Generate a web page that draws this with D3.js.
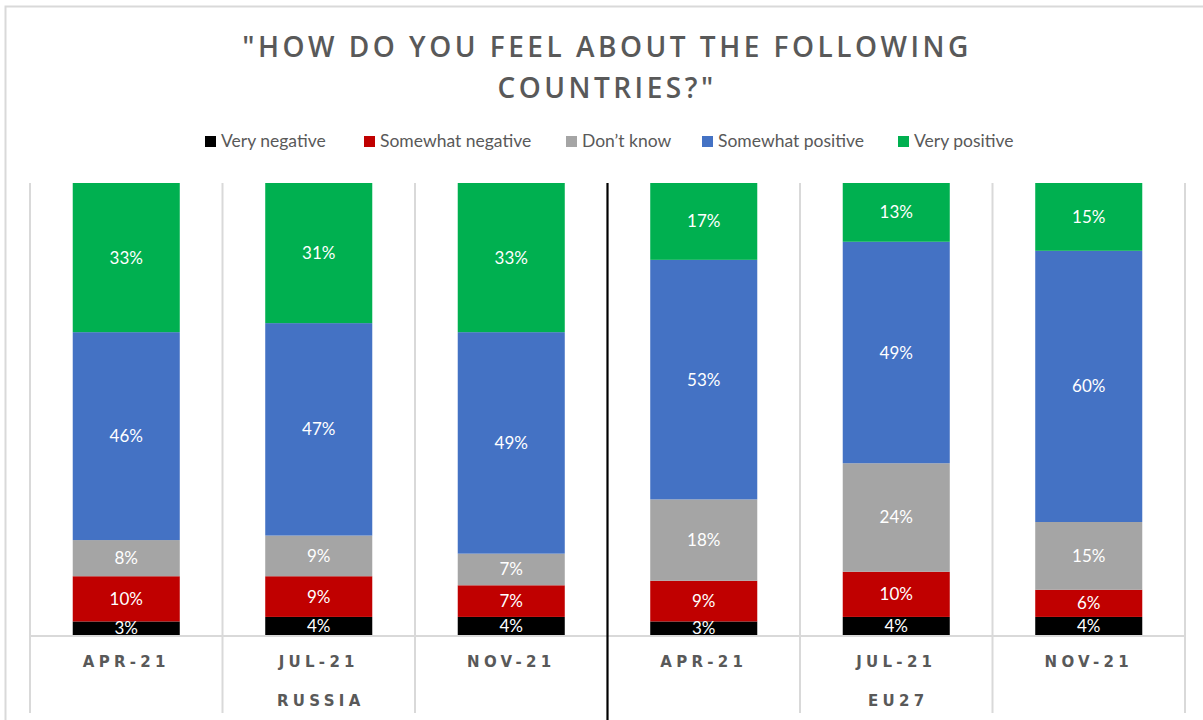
<!DOCTYPE html>
<html>
<head>
<meta charset="utf-8">
<script src="https://cdn.jsdelivr.net/npm/d3@7"></script>
<style>
html,body{margin:0;padding:0;background:#fff;}
svg{display:block;}
</style>
</head>
<body>
<svg id="chart" width="1203" height="720"></svg>
<script>
const periods = ["APR-21","JUL-21","NOV-21","APR-21","JUL-21","NOV-21"];
const groups = ["RUSSIA","EU27"];
const seriesNames = ["Very negative","Somewhat negative","Don\u2019t know","Somewhat positive","Very positive"];
const seriesColors = ["#000000","#C00000","#A5A5A5","#4472C4","#00B050"];
const veryNegative     = [3, 4, 4, 3, 4, 4];
const somewhatNegative = [10, 9, 7, 9, 10, 6];
const dontKnow         = [8, 9, 7, 18, 24, 15];
const somewhatPositive = [46, 47, 49, 53, 49, 60];
const veryPositive     = [33, 31, 33, 17, 13, 15];
const titleLines = ["\"HOW DO YOU FEEL ABOUT THE FOLLOWING", "COUNTRIES?\""];

const seriesValues = [veryNegative, somewhatNegative, dontKnow, somewhatPositive, veryPositive];
const rows = periods.map((p, i) => {
  const r = {idx: i};
  seriesNames.forEach((s, k) => r[s] = seriesValues[k][i]);
  return r;
});
const stack = d3.stack().keys(seriesNames)(rows);

const svg = d3.select("#chart");
const plotL = 30, plotR = 1185, plotT = 183, plotB = 635;

// frame
svg.append("rect").attr("x", 5.5).attr("y", 6.5).attr("width", 1210).attr("height", 730)
  .attr("fill", "none").attr("stroke", "#d9d9d9").attr("stroke-width", 2);

const x = d3.scaleBand().domain(d3.range(periods.length)).range([plotL, plotR]).paddingInner(0.444).paddingOuter(0.222);
const y = d3.scaleLinear().domain([0, 100]).range([plotB, plotT]);

// band edges (gridlines)
const step = x.step();
const edges = d3.range(periods.length + 1).map(i => plotL + i * step);
svg.append("g").selectAll("line").data(edges.filter((e, i) => i !== 3)).join("line")
  .attr("x1", d => d).attr("x2", d => d).attr("y1", plotT).attr("y2", 713)
  .attr("stroke", "#d9d9d9").attr("stroke-width", 2);

// title
const title = svg.append("g");
titleLines.forEach((t, i) => {
  title.append("text").attr("x", 607).attr("y", 57 + i * 41)
    .attr("text-anchor", "middle")
    .attr("font-family", "'Open Sans', sans-serif").attr("font-weight", 600)
    .attr("font-size", 28).attr("fill", "#595959")
    .attr("letter-spacing", 3.5)
    .text(t);
});

// legend
const legendX = [205, 364, 566, 702, 898];
const legend = svg.append("g");
seriesNames.forEach((s, k) => {
  legend.append("rect").attr("x", legendX[k]).attr("y", 136).attr("width", 11).attr("height", 11).attr("fill", seriesColors[k]);
  legend.append("text").attr("x", legendX[k] + 16).attr("y", 147)
    .attr("font-family", "Lato, sans-serif").attr("font-size", 17.5).attr("fill", "#595959")
    .text(s);
});

// bars
const layers = svg.append("g").selectAll("g").data(stack).join("g")
  .attr("fill", (d, k) => seriesColors[k]);
layers.selectAll("rect").data(d => d).join("rect")
  .attr("x", d => x(d.data.idx))
  .attr("width", x.bandwidth())
  .attr("y", d => y(d[1]))
  .attr("height", d => y(d[0]) - y(d[1]));

// data labels
const labels = svg.append("g");
stack.forEach((layer) => {
  layer.forEach(d => {
    labels.append("text")
      .attr("x", x(d.data.idx) + x.bandwidth() / 2)
      .attr("y", (y(d[0]) + y(d[1])) / 2 + 6)
      .attr("text-anchor", "middle")
      .attr("font-family", "Lato, sans-serif").attr("font-size", 17)
      .attr("fill", "#ffffff")
      .text((d[1] - d[0]) + "%");
  });
});

// axis line
svg.append("line").attr("x1", plotL).attr("x2", plotR).attr("y1", plotB + 1).attr("y2", plotB + 1)
  .attr("stroke", "#d9d9d9").attr("stroke-width", 2);

// group separator
svg.append("line").attr("x1", edges[3]).attr("x2", edges[3]).attr("y1", plotT).attr("y2", 720)
  .attr("stroke", "#000").attr("stroke-width", 2.2);

// category labels via axis
const axis = d3.axisBottom(x).tickSize(0).tickFormat(i => periods[i]);
const ax = svg.append("g").attr("transform", `translate(0,${plotB + 18})`).call(axis);
ax.select(".domain").remove();
ax.selectAll("text")
  .attr("font-family", "'DejaVu Sans', sans-serif")
  .attr("font-size", 15).attr("fill", "#595959").attr("letter-spacing", 4.3)
  .style("font-weight", "bold");

// group labels
groups.forEach((g, i) => {
  const cx = (edges[i * 3] + edges[i * 3 + 3]) / 2;
  svg.append("text").attr("x", cx + 2).attr("y", 706).attr("text-anchor", "middle")
    .attr("font-family", "'DejaVu Sans', sans-serif").attr("font-weight", "bold")
    .attr("font-size", 15).attr("fill", "#595959").attr("letter-spacing", 4.3)
    .text(g);
});
</script>
</body>
</html>
